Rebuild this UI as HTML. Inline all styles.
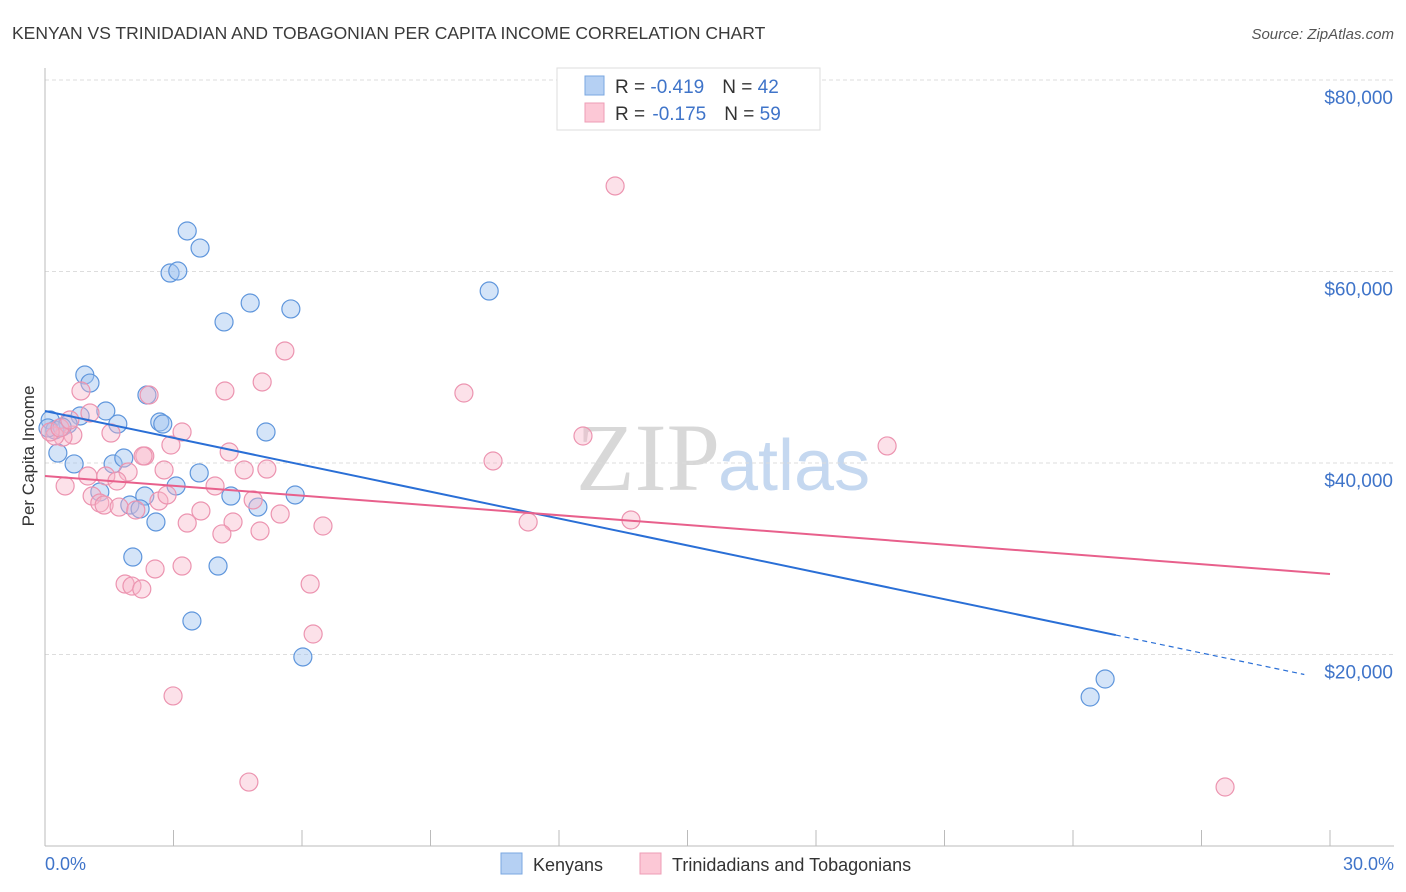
<!DOCTYPE html>
<html><head><meta charset="utf-8"><style>
body{margin:0;background:#fff;font-family:"Liberation Sans",sans-serif;}
svg{display:block}
</style></head><body>
<svg id="chart" width="1406" height="892">
<text x="12" y="39" font-size="17.5" fill="#3a3a3a">KENYAN VS TRINIDADIAN AND TOBAGONIAN PER CAPITA INCOME CORRELATION CHART</text>
<text x="1394" y="39" font-size="15" fill="#555" font-style="italic" text-anchor="end">Source: ZipAtlas.com</text>
<text x="720" y="490" font-size="96" fill="#d8d8d8" font-family="Liberation Serif,serif" text-anchor="end">ZIP</text>
<text x="720" y="490" font-size="72" fill="#c5d8f0" text-anchor="start" dx="-2">atlas</text>
<g id="grid"></g>
<g id="axes"></g>
<g id="points"></g>
<g id="trends"></g>
<text transform="translate(34,456) rotate(-90)" font-size="17" fill="#333" text-anchor="middle">Per Capita Income</text>
<g>
<rect x="557" y="68" width="263" height="62" fill="#fff" stroke="#ddd"/>
<rect x="585" y="76" width="19" height="19" fill="#b5d0f3" stroke="#7aa7e0"/>
<rect x="585" y="103" width="19" height="19" fill="#fcc8d6" stroke="#ee9db5"/>
<text x="615" y="93" font-size="19" fill="#333">R = <tspan fill="#3f74c9">-0.419</tspan><tspan dx="18">N = </tspan><tspan fill="#3f74c9">42</tspan></text>
<text x="615" y="120" font-size="19" fill="#333">R = <tspan fill="#3f74c9" dx="2">-0.175</tspan><tspan dx="18">N = </tspan><tspan fill="#3f74c9">59</tspan></text>
</g>
<g>
<rect x="501" y="853" width="21" height="21" fill="#b5d0f3" stroke="#7aa7e0"/>
<text x="533" y="871" font-size="18" fill="#333">Kenyans</text>
<rect x="640" y="853" width="21" height="21" fill="#fcc8d6" stroke="#ee9db5"/>
<text x="672" y="871" font-size="18" fill="#333">Trinidadians and Tobagonians</text>
</g>
</svg>
<script>
const yTicks=[20000,40000,60000,80000];
const yTickLabels=["$20,000","$40,000","$60,000","$80,000"];
const xEndLabels=["0.0%","30.0%"];
const kenX=[3.32,3.62,2.92,3.10,4.18,4.79,5.74,10.37,0.93,1.05,1.42,0.82,0.54,1.70,2.38,2.68,2.75,0.30,0.68,1.59,1.84,3.60,5.16,3.06,4.34,5.84,2.33,1.28,1.98,2.22,4.97,2.59,2.05,4.04,3.43,6.02,24.40,24.75,0.12,0.23,0.07,0.40];
const kenY=[64230,62450,59840,60050,54730,56710,56090,57960,49190,48350,45430,44910,44070,44070,47100,44280,44070,41040,39900,39900,40520,38960,43240,37600,36550,36660,36550,36970,35610,35200,35400,33840,30180,29240,23500,19740,15560,17440,44490,43450,43660,43760];
const triX=[13.31,5.60,5.07,4.20,9.78,0.84,2.43,3.20,1.54,0.65,12.56,19.66,2.94,4.30,2.33,10.46,4.65,5.18,2.78,1.42,1.94,0.47,3.97,1.68,1.00,1.10,1.28,1.38,1.73,2.12,2.66,2.85,4.86,5.49,3.64,3.32,4.39,5.02,6.49,11.28,13.68,4.13,2.29,3.20,2.57,1.87,2.03,2.26,6.19,6.26,2.99,4.76,27.55,0.42,0.23,0.12,0.35,0.58,1.05];
const triY=[68930,51700,48460,47520,47310,47520,47100,43240,43130,42920,42820,41780,41880,41150,40730,40210,39270,39370,39270,38640,39060,37600,37600,38120,38640,36550,35820,35610,35400,35090,36030,36660,36140,34670,34990,33730,33840,32900,33420,33840,34050,32590,40730,29240,28930,27360,27150,26840,27360,22140,15670,6680,6160,42710,42820,43240,43660,44490,45220];
const kenTrend=[45430,-936];   // intercept, slope per %
const triTrend=[38640,-341];
const kenSolidEnd=25, kenDashEnd=29.4;
const NS="http://www.w3.org/2000/svg";
const X=p=>45+p*1285/30;
const Y=v=>846-v*0.009575;
function mk(t,a,parent){const e=document.createElementNS(NS,t);for(const k in a)e.setAttribute(k,a[k]);document.getElementById(parent).appendChild(e);return e;}
yTicks.forEach((v,i)=>{
 const g=mk('line',{x1:45,x2:1394,y1:Y(v),y2:Y(v),stroke:'#ddd','stroke-dasharray':'4,3'},'grid');
 
 
 const t=mk('text',{x:1393,y:Y(v)+24,'font-size':19,fill:'#3f74c9','text-anchor':'end'},'axes');
 t.textContent=yTickLabels[i];
 
 
});
const ya=mk('line',{x1:45,x2:45,y1:68,y2:846,stroke:'#bbb'},'axes');


const xa=mk('line',{x1:45,x2:1394,y1:846,y2:846,stroke:'#bbb'},'axes');


for(let k=0;k<=10;k++){
 const tk=mk('line',{x1:X(k*3),x2:X(k*3),y1:830,y2:846,stroke:'#bbb'},'axes');
 
 
}
const l0=mk('text',{x:45,y:870,'font-size':18,fill:'#3f74c9'},'axes');l0.textContent=xEndLabels[0];


const l1=mk('text',{x:1394,y:870,'font-size':18,fill:'#3f74c9','text-anchor':'end'},'axes');l1.textContent=xEndLabels[1];


kenX.forEach((x,i)=>{
 const c=mk('circle',{cx:X(x),cy:Y(kenY[i]),r:9,fill:'rgba(160,195,240,0.45)',stroke:'#5f96dc','stroke-width':1.2},'points');
 
 
});
triX.forEach((x,i)=>{
 const c=mk('circle',{cx:X(x),cy:Y(triY[i]),r:9,fill:'rgba(248,180,200,0.4)',stroke:'#ec94b0','stroke-width':1.2},'points');
 
 
});
const f=(t,x)=>t[0]+t[1]*x;
const kl=mk('line',{x1:X(0),y1:Y(f(kenTrend,0)),x2:X(kenSolidEnd),y2:Y(f(kenTrend,kenSolidEnd)),stroke:'#2a6fd6','stroke-width':2},'trends');


const kd=mk('line',{x1:X(kenSolidEnd),y1:Y(f(kenTrend,kenSolidEnd)),x2:X(kenDashEnd),y2:Y(f(kenTrend,kenDashEnd)),stroke:'#2a6fd6','stroke-width':1.2,'stroke-dasharray':'5,4'},'trends');


const tl=mk('line',{x1:X(0),y1:Y(f(triTrend,0)),x2:X(30),y2:Y(f(triTrend,30)),stroke:'#e8608c','stroke-width':2},'trends');


</script>
</body></html>
